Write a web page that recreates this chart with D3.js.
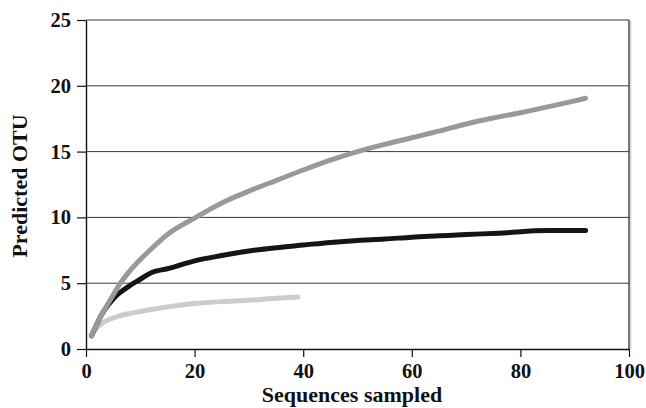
<!DOCTYPE html>
<html>
<head>
<meta charset="utf-8">
<script src="https://cdn.jsdelivr.net/npm/d3@7"></script>
<style>
  body { margin: 0; background: #fff; }
  text { font-family: "Liberation Serif", "Times New Roman", serif; font-weight: bold; }
</style>
</head>
<body>
<script>
// values (sequences sampled -> predicted OTU)
const grayX  = [1, 2, 3, 4, 5, 6, 8, 10, 12, 15, 20, 25, 30, 35, 40, 45, 50, 55, 60, 65, 70, 75, 80, 85, 90, 92];
const grayY  = [1, 1.9, 2.7, 3.4, 4.1, 4.8, 5.9, 6.8, 7.6, 8.7, 9.95, 11.1, 12.0, 12.8, 13.6, 14.35, 15.0, 15.55, 16.05, 16.55, 17.1, 17.55, 17.95, 18.4, 18.85, 19.05];
const blackX = [1, 2, 3, 4, 5, 6, 8, 10, 12, 15, 20, 25, 30, 35, 40, 45, 50, 55, 60, 65, 70, 76, 85, 92];
const blackY = [1, 1.9, 2.7, 3.3, 3.8, 4.2, 4.8, 5.3, 5.8, 6.1, 6.7, 7.1, 7.45, 7.7, 7.9, 8.1, 8.25, 8.35, 8.5, 8.6, 8.7, 8.8, 9.0, 9.0];
const lightX = [1, 2, 3, 4, 6, 8, 10, 12, 15, 20, 25, 30, 35, 39];
const lightY = [1, 1.6, 1.95, 2.2, 2.5, 2.7, 2.85, 3.0, 3.2, 3.45, 3.6, 3.7, 3.85, 3.95];

const xTicks = [0, 20, 40, 60, 80, 100];
const yTicks = [0, 5, 10, 15, 20, 25];

const series = [
  {xs: lightX, ys: lightY, color: "#cccccc"},
  {xs: blackX, ys: blackY, color: "#151515"},
  {xs: grayX,  ys: grayY,  color: "#999999"}
];

const margin = {top: 20, right: 17, bottom: 59, left: 86};
const width = 646 - margin.left - margin.right,
      height = 408 - margin.top - margin.bottom;

const svg = d3.select("body").append("svg")
              .attr("width", 646)
              .attr("height", 408);

const g = svg.append("g")
             .attr("transform", `translate(${margin.left},${margin.top})`);

const xScale = d3.scaleLinear().domain([0, 100]).range([0, width]);
const yScale = d3.scaleLinear().domain([0, 25]).range([height, 0]);

// gridlines
g.selectAll(".grid")
 .data(yTicks.filter(d => d > 0))
 .join("line")
 .attr("x1", 0).attr("x2", width)
 .attr("y1", d => yScale(d)).attr("y2", d => yScale(d))
 .attr("stroke", "#3a3a3a")
 .attr("stroke-width", 1);

// right border with faint shadow
g.append("line")
 .attr("x1", width + 1.5).attr("x2", width + 1.5)
 .attr("y1", 1).attr("y2", height)
 .attr("stroke", "#d8d8d8").attr("stroke-width", 2);
g.append("line")
 .attr("x1", width).attr("x2", width)
 .attr("y1", 0).attr("y2", height)
 .attr("stroke", "#222").attr("stroke-width", 1.2);

const line = d3.line()
               .x(d => xScale(d[0]))
               .y(d => yScale(d[1]))
               .curve(d3.curveMonotoneX);

g.selectAll(".series")
 .data(series)
 .join("path")
 .attr("d", s => line(s.xs.map((x, i) => [x, s.ys[i]])))
 .attr("fill", "none")
 .attr("stroke", s => s.color)
 .attr("stroke-width", 5)
 .attr("stroke-linecap", "round")
 .attr("stroke-linejoin", "round");

const xAxis = g.append("g")
               .attr("transform", `translate(0,${height})`)
               .call(d3.axisBottom(xScale).tickValues(xTicks).tickSize(8).tickPadding(6).tickSizeOuter(0));

const yAxis = g.append("g")
               .call(d3.axisLeft(yScale).tickValues(yTicks).tickSize(9).tickPadding(6).tickSizeOuter(0));

[xAxis, yAxis].forEach(a => {
  a.select(".domain").attr("stroke", "#111").attr("stroke-width", 1.4);
  a.selectAll(".tick line").attr("stroke", "#111").attr("stroke-width", 1.2);
  a.selectAll(".tick text")
   .attr("font-size", "20.5px")
   .attr("font-family", "'Liberation Serif', serif")
   .attr("font-weight", "bold")
   .attr("fill", "#111");
});

svg.append("text")
   .attr("x", 352)
   .attr("y", 402)
   .attr("text-anchor", "middle")
   .attr("font-size", "22px")
   .attr("fill", "#111")
   .text("Sequences sampled");

svg.append("text")
   .attr("transform", "translate(27,186) rotate(-90)")
   .attr("text-anchor", "middle")
   .attr("font-size", "22px")
   .attr("fill", "#111")
   .text("Predicted OTU");
</script>
</body>
</html>
